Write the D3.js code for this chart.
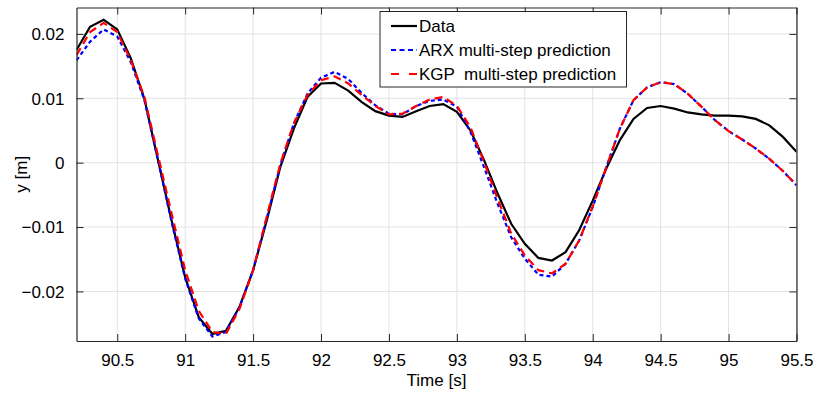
<!DOCTYPE html>
<html>
<head>
<meta charset="utf-8">
<script src="https://cdn.jsdelivr.net/npm/d3@7/dist/d3.min.js"></script>
<style>
  html, body { margin: 0; padding: 0; background: #fff; }
  svg { display: block; font-family: "Liberation Sans", Arial, Helvetica, sans-serif; }
</style>
</head>
<body>
<div id="chart"></div>
<script>
const WIDTH = 813;
const HEIGHT = 395;

// sample times (s), 0.1 s step
const time = [
  90.2, 90.3, 90.4, 90.5, 90.6, 90.7, 90.8, 90.9, 91.0, 91.1,
  91.2, 91.3, 91.4, 91.5, 91.6, 91.7, 91.8, 91.9, 92.0, 92.1,
  92.2, 92.3, 92.4, 92.5, 92.6, 92.7, 92.8, 92.9, 93.0, 93.1,
  93.2, 93.3, 93.4, 93.5, 93.6, 93.7, 93.8, 93.9, 94.0, 94.1,
  94.2, 94.3, 94.4, 94.5, 94.6, 94.7, 94.8, 94.9, 95.0, 95.1,
  95.2, 95.3, 95.4, 95.5
];

const measured = [
  0.0175, 0.0211, 0.0222, 0.0207, 0.0162, 0.0099, 0.0004, -0.0090, -0.0178, -0.0240,
  -0.0266, -0.0261, -0.0224, -0.0167, -0.0090, -0.0007, 0.0053, 0.0102, 0.0123, 0.0124,
  0.0112, 0.0094, 0.0080, 0.0073, 0.0071, 0.0080, 0.0088, 0.0091, 0.0079, 0.0050,
  0.0004, -0.0048, -0.0095, -0.0126, -0.0148, -0.0152, -0.0139, -0.0105, -0.0059, -0.0009,
  0.0035, 0.0068, 0.0085, 0.0088, 0.0084, 0.0078, 0.0075, 0.0073, 0.0073, 0.0072,
  0.0068, 0.0058, 0.0040, 0.0017
];

const arxPred = [
  0.0159, 0.0188, 0.0207, 0.0196, 0.0156, 0.0097, 0.0004, -0.0092, -0.0180, -0.0242,
  -0.0270, -0.0263, -0.0224, -0.0167, -0.0087, -0.0004, 0.0061, 0.0107, 0.0132, 0.0141,
  0.0130, 0.0108, 0.0089, 0.0076, 0.0075, 0.0088, 0.0096, 0.0098, 0.0087, 0.0048,
  -0.0007, -0.0064, -0.0116, -0.0149, -0.0174, -0.0177, -0.0157, -0.0121, -0.0069, -0.0007,
  0.0053, 0.0097, 0.0117, 0.0125, 0.0122, 0.0107, 0.0087, 0.0066, 0.0049, 0.0036,
  0.0022, 0.0006, -0.0013, -0.0035
];

const kgpPred = [
  0.0167, 0.0203, 0.0217, 0.0203, 0.0159, 0.0102, 0.0011, -0.0079, -0.0167, -0.0230,
  -0.0263, -0.0266, -0.0227, -0.0167, -0.0084, -0.0002, 0.0061, 0.0105, 0.0128, 0.0134,
  0.0123, 0.0105, 0.0088, 0.0075, 0.0076, 0.0088, 0.0098, 0.0102, 0.0088, 0.0055,
  0.0001, -0.0056, -0.0110, -0.0144, -0.0167, -0.0172, -0.0157, -0.0121, -0.0068, -0.0007,
  0.0053, 0.0097, 0.0117, 0.0125, 0.0122, 0.0107, 0.0087, 0.0066, 0.0049, 0.0036,
  0.0022, 0.0006, -0.0013, -0.0035
];

const xTicks = [90.5, 91, 91.5, 92, 92.5, 93, 93.5, 94, 94.5, 95, 95.5];
const yTicks = [-0.02, -0.01, 0, 0.01, 0.02];

const seriesNames = ['Data', 'ARX multi-step prediction', 'KGP  multi-step prediction'];

const margin = { left: 76.5, right: WIDTH - 796.5, top: 7.5, bottom: HEIGHT - 341 };
const innerW = WIDTH - margin.left - margin.right;
const innerH = HEIGHT - margin.top - margin.bottom;

const FONT = 17;
const AXIS_COLOR = '#262626';
const GRID_COLOR = '#e3e3e3';

const svg = d3.select('#chart')
  .append('svg')
  .attr('width', WIDTH)
  .attr('height', HEIGHT);

svg.append('rect').attr('width', WIDTH).attr('height', HEIGHT).attr('fill', '#fff');

const x = d3.scaleLinear().domain([90.2, 95.5]).range([0, innerW]);
const y = d3.scaleLinear().domain([-0.0277, 0.0241]).range([innerH, 0]);

const g = svg.append('g').attr('transform', `translate(${margin.left},${margin.top})`);

// grid
g.append('g')
  .selectAll('line')
  .data(xTicks)
  .enter()
  .append('line')
  .attr('x1', (d) => x(d)).attr('x2', (d) => x(d))
  .attr('y1', 0).attr('y2', innerH)
  .attr('stroke', GRID_COLOR).attr('stroke-width', 1);

g.append('g')
  .selectAll('line')
  .data(yTicks)
  .enter()
  .append('line')
  .attr('x1', 0).attr('x2', innerW)
  .attr('y1', (d) => y(d)).attr('y2', (d) => y(d))
  .attr('stroke', GRID_COLOR).attr('stroke-width', 1);

// series
svg.append('clipPath').attr('id', 'plot-clip')
  .append('rect').attr('width', innerW).attr('height', innerH);

const line = d3.line()
  .x((d) => x(d[0]))
  .y((d) => y(d[1]));

const series = [
  { name: seriesNames[0], values: measured, color: '#000000', dash: null, legendDash: null },
  { name: seriesNames[1], values: arxPred, color: '#0000ff', dash: '4,3', legendDash: '5,3.5' },
  { name: seriesNames[2], values: kgpPred, color: '#ff0000', dash: '8,5', legendDash: '8,10' },
];

const plot = g.append('g').attr('clip-path', 'url(#plot-clip)');
series.forEach((s) => {
  plot.append('path')
    .datum(time.map((t, i) => [t, s.values[i]]))
    .attr('d', line)
    .attr('fill', 'none')
    .attr('stroke', s.color)
    .attr('stroke-width', 2.2)
    .attr('stroke-dasharray', s.dash);
});

// axes (box with inner ticks on all sides)
const TICK = -7;
const fmt = (d) => (d === 0 ? '0' : d3.format('')(d));

const xAxis = g.append('g')
  .attr('transform', `translate(0,${innerH})`)
  .call(d3.axisBottom(x).tickValues(xTicks).tickSizeInner(TICK).tickSizeOuter(0).tickPadding(13).tickFormat(fmt));
const xAxisTop = g.append('g')
  .call(d3.axisTop(x).tickValues(xTicks).tickSizeInner(TICK).tickSizeOuter(0).tickFormat(''));
const yAxis = g.append('g')
  .call(d3.axisLeft(y).tickValues(yTicks).tickSizeInner(TICK).tickSizeOuter(0).tickPadding(12).tickFormat(fmt));
const yAxisRight = g.append('g')
  .attr('transform', `translate(${innerW},0)`)
  .call(d3.axisRight(y).tickValues(yTicks).tickSizeInner(TICK).tickSizeOuter(0).tickFormat(''));

[xAxis, xAxisTop, yAxis, yAxisRight].forEach((a) => {
  a.select('.domain').attr('stroke', AXIS_COLOR).attr('stroke-width', 1.2);
  a.selectAll('.tick line').attr('stroke', AXIS_COLOR).attr('stroke-width', 1);
  a.selectAll('.tick text')
    .attr('fill', '#000')
    .style('font-size', `${FONT}px`)
    .style('font-family', '"Liberation Sans", Arial, sans-serif');
});
yAxis.selectAll('.tick text').attr('dy', '0.35em');

// axis labels
svg.append('text')
  .attr('x', margin.left + innerW / 2)
  .attr('y', 386)
  .attr('text-anchor', 'middle')
  .style('font-size', `${FONT}px`)
  .text('Time [s]');

svg.append('text')
  .attr('transform', `translate(27,${margin.top + innerH / 2}) rotate(-90)`)
  .attr('text-anchor', 'middle')
  .style('font-size', `${FONT}px`)
  .text('y [m]');

// legend
const legend = svg.append('g').attr('transform', 'translate(380,11.5)');
legend.append('rect')
  .attr('width', 246.5)
  .attr('height', 75.5)
  .attr('fill', '#fff')
  .attr('stroke', AXIS_COLOR)
  .attr('stroke-width', 1);

const rows = legend.selectAll('g.row')
  .data(series)
  .enter()
  .append('g')
  .attr('class', 'row')
  .attr('transform', (d, i) => `translate(0,${14.5 + i * 24})`);

rows.append('line')
  .attr('x1', 11).attr('x2', 37)
  .attr('y1', 0).attr('y2', 0)
  .attr('stroke', (d) => d.color)
  .attr('stroke-width', 2.2)
  .attr('stroke-dasharray', (d) => d.legendDash);

rows.append('text')
  .attr('x', 39)
  .attr('y', 0)
  .attr('dy', '0.35em')
  .style('font-size', `${FONT}px`)
  .style('white-space', 'pre')
  .text((d) => d.name);
</script>
</body>
</html>
